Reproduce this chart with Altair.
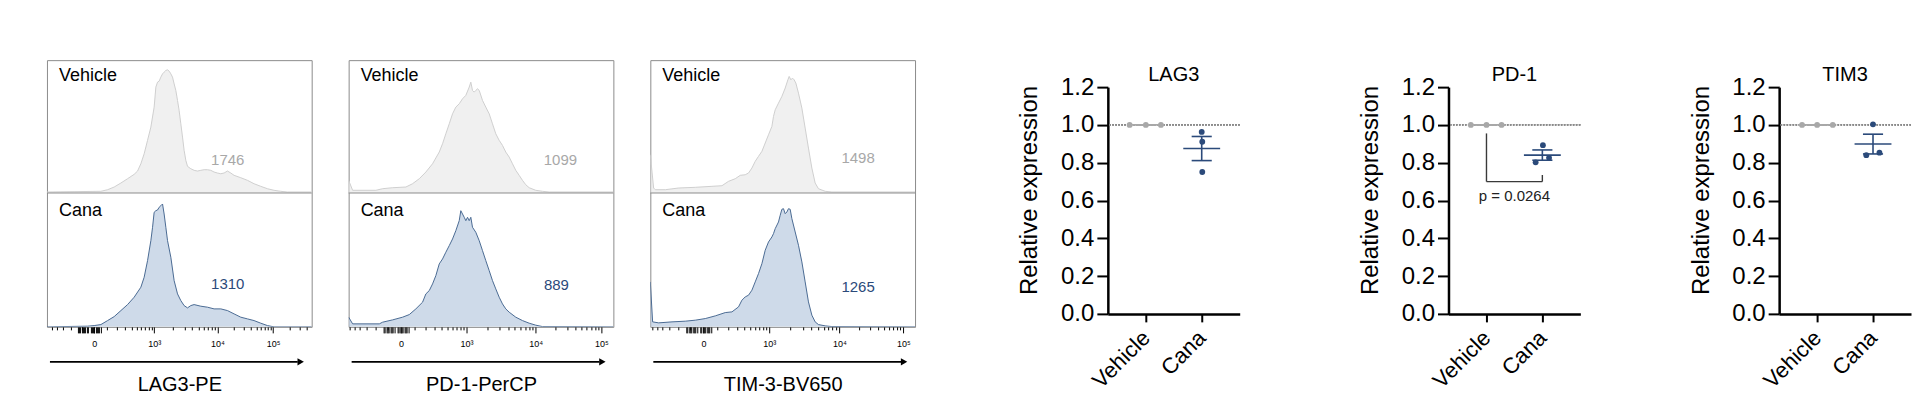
import math
import altair as alt
import pandas as pd

FONT = "Liberation Sans"
GREY_FILL, GREY_LINE, GREY_TXT = "#e9e9e9", "#cfcfcf", "#a8a8a8"
BLUE_FILL, BLUE_LINE, BLUE_TXT = "#b9cadf", "#4a6a93", "#2b4a7a"
DOT_GREY, DOT_BLUE = "#b4b4b4", "#1d4f8d"
BOX = "#8c8c8c"

# ---------------- flow histograms (display channel vs. scaled count) ----------------
lag3_veh_ch = [0, 54, 60.7, 67.3, 74, 80.7, 87.3, 90.7, 94, 97.3,
               100.7, 104, 107.3, 109, 110.7, 112.3, 114, 115.7, 117.3, 119,
               120.7, 122.3, 124, 125.7, 127.3, 129, 130.7, 132.3, 134, 135.7,
               137.3, 139, 140.7, 144, 147.3, 150.7, 154, 157.3, 160.7, 164,
               167.3, 170.7, 174, 177.3, 180.7, 184, 187.3, 194, 200.7, 207.3,
               214, 220.7, 227.3, 234, 240.7, 265]
lag3_veh_ct = [1, 1.7, 3.3, 6, 10, 14.3, 18.7, 22, 29.3, 39.3,
               52.7, 66, 86, 106, 111, 112, 116, 119.3, 121, 122.7,
               123.3, 122, 119.3, 116, 109.3, 102.7, 92.7, 82.7, 69.3, 56,
               42.7, 32.7, 26.7, 24.3, 22.7, 22, 22.7, 23.3, 23.3, 22.7,
               21, 20, 19.3, 20, 22, 20, 17.7, 15.3, 12.7, 9.3,
               6.7, 4.3, 2.7, 1.7, 1, 1]
lag3_cana_ch = [0, 40.7, 47.3, 54, 60.7, 67.3, 74, 80.7, 87.3, 94,
                97.3, 100.7, 104, 105.7, 107.3, 109, 110.7, 112.3, 114, 115.7,
                117.3, 119, 120.7, 124, 127.3, 130.7, 134, 137.3, 140.7, 144,
                147.3, 154, 160.7, 167.3, 174, 180.7, 187.3, 194, 200.7, 207.3,
                214, 220.7, 227.3, 265]
lag3_cana_ct = [0, 0.7, 1.3, 2.3, 6.3, 10.3, 16.3, 22.3, 29.7, 39.7,
                49.7, 66.3, 86.3, 99.7, 114.7, 116.3, 117, 119.7, 121.3, 123,
                113, 99.7, 86.3, 69.7, 46.3, 33, 26.3, 21.3, 19, 21.3,
                22.3, 20.7, 19.7, 18, 18, 16.3, 13, 9.7, 8, 6.3,
                3.7, 1.3, 0, 0]

pd1_veh_ch = [0, 4, 27.3, 34, 44, 57.3, 64, 70.7, 77.3, 84,
              90.7, 94, 97.3, 100.7, 104, 107.3, 110.7, 114, 117.3, 120.7,
              122.3, 124, 125.7, 127.3, 129, 130.7, 134, 137.3, 140.7, 144,
              147.3, 150.7, 154, 157.3, 160.7, 164, 167.3, 170.7, 174, 177.3,
              180.7, 187.3, 194, 200.7, 265]
pd1_veh_ct = [12.7, 2.7, 2.7, 4.3, 5.3, 6, 9.3, 14.3, 21, 29.3,
              41, 49.3, 59.3, 69.3, 79.3, 86, 89.3, 94.3, 97.7, 106,
              111, 102.7, 101, 102.7, 104.3, 102.7, 92.7, 86, 79.3, 69.3,
              59.3, 52.7, 47.7, 41, 36, 29.3, 22.7, 17.7, 12.7, 8.3,
              5.3, 2.7, 1.7, 1, 1]
pd1_cana_ch = [0, 4, 30.7, 34, 44, 54, 60.7, 67.3, 74, 77.3,
               80.7, 84, 87.3, 90.7, 94, 97.3, 100.7, 104, 107.3, 110.7,
               112.3, 114, 115.7, 117.3, 119, 120.7, 122.3, 124, 127.3, 130.7,
               134, 137.3, 140.7, 144, 147.3, 150.7, 154, 157.3, 160.7, 167.3,
               174, 180.7, 187.3, 194, 265]
pd1_cana_ct = [9.7, 3, 3, 4.7, 7, 9.7, 12.3, 18, 24.7, 33,
               36.3, 43, 51.3, 63, 68, 74.7, 81.3, 88, 96.3, 106.3,
               116.3, 113, 109.7, 106.3, 109.7, 106.3, 109.7, 99.7, 94.7, 86.3,
               76.3, 66.3, 56.3, 46.3, 38, 29.7, 23, 18, 14.7, 9.7,
               6.3, 3.7, 1.7, 0.3, 0]

tim3_veh_ch = [0, 3.3, 5, 15, 28.3, 45, 61.7, 71.7, 78.3, 85,
               90, 95, 98.3, 101.7, 105, 108.3, 111.7, 115, 118.3, 121.7,
               123.3, 125, 128.3, 131.7, 135, 137.7, 139, 140.7, 142.3, 144,
               145.7, 148.3, 151.7, 155, 158.3, 161.7, 165, 168.3, 175, 181.7,
               265]
tim3_veh_ct = [38.3, 5, 3.3, 3.3, 5, 5.7, 6.7, 7.3, 11.7, 14.3,
               17.7, 18.3, 20, 25, 31.7, 36.7, 41.7, 50, 58.3, 66.7,
               76.7, 83.3, 90, 96.7, 105, 113.3, 116.7, 113.3, 115, 113.3,
               110, 100, 85, 65, 45, 25, 10, 4.3, 1.7, 1,
               1]
tim3_cana_ch = [0, 2.3, 8.3, 21.7, 35, 45, 55, 65, 75, 81.7,
                88.3, 91.7, 95, 98.3, 101.7, 105, 108.3, 111.7, 115, 118.3,
                121.7, 123.3, 125, 128.3, 130, 131.7, 133.3, 135, 136.7, 138.3,
                140, 141.7, 145, 148.3, 151.7, 155, 158.3, 161.7, 165, 168.3,
                175, 181.7, 265]
tim3_cana_ct = [45, 5, 4, 5, 5.7, 6.7, 8.3, 11, 14.3, 15,
                20, 26.7, 30, 31.7, 36.7, 45, 53.3, 63.3, 76.7, 85,
                90, 93.3, 98.3, 105, 111.7, 117.7, 118.3, 113.3, 115, 118.3,
                117.7, 108.3, 95, 81.7, 65, 45, 25, 11.7, 5, 2.3,
                1, 0.3, 0]

# axis: display channel of 0, 10^3, 10^4, 10^5 in each panel
hist_titles = ["LAG3-PE", "PD-1-PerCP", "TIM-3-BV650"]
hist_major = [[47.3, 107.3, 170.7, 226.3],
              [52.3, 118.0, 187.3, 253.0],
              [53.3, 119.0, 189.3, 253.3]]
major_labels = ["0", "10\u00b3", "10\u2074", "10\u2075"]
veh_mfi = ["1746", "1099", "1498"]
cana_mfi = ["1310", "889", "1265"]
veh_mfi_pos = [(181, 33), (212, 33), (208, 35)]
cana_mfi_pos = [(181, 43), (208, 42), (208, 40)]
name_pos_top = (12, 117)
name_pos_bot = (12, 116)

HW, HT, HB = 265, 133, 134   # width, top half, bottom half (count units)


def logicle_pos(v, m):
    z, t3, t4, t5 = m
    C = 200.0
    if abs(v) <= 1000:
        s = 1 if v >= 0 else -1
        return z + s * (t3 - z) * math.asinh(abs(v) / C) / math.asinh(1000 / C)
    lv = math.log10(v)
    if lv <= 4:
        return t3 + (lv - 3) * (t4 - t3)
    return t4 + (lv - 4) * (t5 - t4)


def axis_ticks(m):
    minor_vals = []
    for k in range(1, 10):
        minor_vals += [k * 10, -k * 10, k * 100, -k * 100]
    for k in range(2, 10):
        minor_vals += [k * 1000, k * 10000, k * 100000]
    big, small = list(m), []
    for v in minor_vals:
        p = logicle_pos(v, m)
        if abs(v) < 100:
            p -= 5          # the dense near-zero tick cluster sits slightly left of "0"
        p = round(p, 2)
        if p < 0.5 or p > HW - 0.5 or p in m:
            continue
        (big if abs(v) < 100 else small).append(p)
    return sorted(set(big + small)), big


def hist_panel(i, veh_ch, veh_ct, cana_ch, cana_ct):
    m = hist_major[i]
    ticks, big = axis_ticks(m)
    expr = "".join(f"datum.value == {v} ? '{lab}' : " for v, lab in zip(m, major_labels)) + "''"
    big_list = ",".join(str(b) for b in big)
    xs = alt.Scale(domain=[0, HW], nice=False, zero=False)
    ys = alt.Scale(domain=[0, HB + HT], nice=False, zero=False)
    xaxis = alt.Axis(values=ticks, labelExpr=expr, domain=False, grid=False,
                     tickColor="black", tickWidth=1,
                     tickSize={"condition": {"test": f"indexof([{big_list}], datum.value) >= 0", "value": 6}, "value": 3},
                     labelFontSize=9, labelFont=FONT, labelColor="black",
                     labelPadding=7, labelOverlap=False, labelFlush=False, labelBound=False,
                     title=hist_titles[i], titleFont=FONT, titleFontSize=20,
                     titleFontWeight="normal", titleColor="black",
                     titleY=64, titleBaseline="alphabetic")
    X = alt.X("channel:Q", scale=xs, axis=xaxis)

    veh = pd.DataFrame({"channel": veh_ch, "count": veh_ct})
    cana = pd.DataFrame({"channel": cana_ch, "count": cana_ct})
    veh_area = alt.Chart(veh).transform_calculate(y=f"datum.count + {HB}").mark_area(
        color=GREY_FILL, line={"color": GREY_LINE, "strokeWidth": 1}, clip=True).encode(
        x=X, y=alt.Y("y:Q", scale=ys, axis=None), y2=alt.datum(HB))
    cana_area = alt.Chart(cana).mark_area(
        color=BLUE_FILL, line={"color": BLUE_LINE, "strokeWidth": 1}, clip=True).encode(
        x=X, y=alt.Y("count:Q", scale=ys, axis=None))
    mid = alt.Chart(alt.Data(values=[{"a": 1}])).mark_rule(color=BOX, strokeWidth=1).encode(
        y=alt.datum(HB, type="quantitative", scale=ys, axis=None))

    names = pd.DataFrame({"channel": [name_pos_top[0], name_pos_bot[0]],
                          "count": [name_pos_top[1] + HB, name_pos_bot[1]],
                          "t": ["Vehicle", "Cana"]})
    ntext = alt.Chart(names).mark_text(align="left", baseline="middle", fontSize=18,
                                       font=FONT, color="black").encode(
        x=X, y=alt.Y("count:Q", scale=ys, axis=None), text="t:N")
    mfis = pd.DataFrame({"channel": [veh_mfi_pos[i][0], cana_mfi_pos[i][0]],
                         "count": [veh_mfi_pos[i][1] + HB, cana_mfi_pos[i][1]],
                         "t": [veh_mfi[i], cana_mfi[i]], "grp": ["Vehicle", "Cana"]})
    mtext = alt.Chart(mfis).mark_text(align="center", baseline="middle", fontSize=15,
                                      font=FONT).encode(
        x=X, y=alt.Y("count:Q", scale=ys, axis=None), text="t:N",
        color=alt.Color("grp:N", scale=alt.Scale(domain=["Vehicle", "Cana"],
                                                 range=[GREY_TXT, BLUE_TXT]), legend=None))
    one = alt.Data(values=[{"a": 1}])
    shaft = alt.Chart(one).mark_rule(color="black", strokeWidth=1.6).encode(
        x=alt.value(3), x2=alt.value(251), y=alt.value(HB + HT + 35))
    head = alt.Chart(one).mark_point(shape="triangle-right", filled=True, size=55,
                                     color="black", opacity=1).encode(
        x=alt.value(254), y=alt.value(HB + HT + 35))
    return alt.layer(veh_area, cana_area, mid, ntext, mtext, shaft, head).properties(
        width=HW, height=HB + HT, view=alt.ViewBackground(stroke=BOX, strokeWidth=1))


# ---------------- relative expression dot plots ----------------
groups = ["Vehicle", "Vehicle", "Vehicle", "Cana", "Cana", "Cana"]
group_pos = {"Vehicle": 1, "Cana": 2}
dot_titles = ["LAG3", "PD-1", "TIM3"]
rel_values = [[1.0, 1.0, 1.0, 0.963, 0.911, 0.751],
              [1.0, 1.0, 1.0, 0.893, 0.802, 0.826],
              [1.0, 1.0, 1.0, 1.003, 0.840, 0.853]]
x_scatter = [[-0.29, 0.0, 0.27, 0.0, 0.01, 0.01],
             [-0.28, 0.0, 0.27, 0.01, -0.12, 0.12],
             [-0.27, 0.0, 0.28, 0.0, -0.12, 0.115]]
bracket_x = [1, 1, 2]
bracket_x2 = [1, 2, 2]
bracket_y = [0.955, 0.70, 0.70]
bracket_y2 = [0.70, 0.70, 0.735]
p_text = "p = 0.0264"
p_pos = (1.5, 0.625)

DW, DH = 132, 227


def dot_panel(j, with_bracket):
    df = pd.DataFrame({"group": groups,
                       "gx": [group_pos[g] for g in groups],
                       "value": rel_values[j]})
    df["x"] = df["gx"] + x_scatter[j]
    xs = alt.Scale(domain=[0.32, 2.68], nice=False, zero=False)
    ys = alt.Scale(domain=[0, 1.2], nice=False, zero=True)
    xaxis = alt.Axis(values=[1, 2], labelExpr="datum.value == 1 ? 'Vehicle' : 'Cana'",
                     grid=False, domainColor="black", domainWidth=2.5, tickColor="black",
                     tickWidth=2, tickSize=8, labelAngle=-45, labelAlign="right",
                     labelBaseline="middle", labelPadding=12, labelFontSize=22, labelFont=FONT,
                     labelColor="black", title=None)
    yaxis = alt.Axis(values=[0, 0.2, 0.4, 0.6, 0.8, 1.0, 1.2], format=".1f", grid=False,
                     domainColor="black", domainWidth=2.5, tickColor="black", tickWidth=2,
                     tickSize=11, labelPadding=3, labelFontSize=24, labelFont=FONT,
                     labelColor="black", title="Relative expression", titleFont=FONT,
                     titleFontSize=24, titleFontWeight="normal", titleColor="black",
                     titleX=-78, titleY=103, titleBaseline="middle", titleAngle=270)

    def X(f):
        return alt.X(f, type="quantitative", scale=xs, axis=xaxis)

    def Y(f):
        return alt.Y(f, type="quantitative", scale=ys, axis=yaxis)

    color = alt.Color("group:N", scale=alt.Scale(domain=["Vehicle", "Cana"],
                                                 range=[DOT_GREY, DOT_BLUE]), legend=None)
    base = alt.Chart(df)
    ref = base.mark_rule(color="#8a8a8a", strokeDash=[1.5, 1.5], strokeWidth=1).encode(
        y=alt.datum(1.0, type="quantitative", scale=ys, axis=yaxis))
    stats = base.transform_aggregate(
        mean="mean(value)", sd="stdev(value)", n="count()", groupby=["group", "gx"]
    ).transform_calculate(
        sem="datum.sd / sqrt(datum.n)",
        lo="datum.mean - datum.sem", hi="datum.mean + datum.sem",
        ml="datum.gx - 0.33", mr="datum.gx + 0.33",
        cl="datum.gx - 0.18", cr="datum.gx + 0.18")
    mean_line = stats.mark_rule(strokeWidth=1.6).encode(x=X("ml"), x2="mr:Q", y=Y("mean"), color=color)
    err = stats.mark_rule(strokeWidth=1.6).encode(x=X("gx"), y=Y("lo"), y2="hi:Q", color=color)
    cap_hi = stats.mark_rule(strokeWidth=1.6).encode(x=X("cl"), x2="cr:Q", y=Y("hi"), color=color)
    cap_lo = stats.mark_rule(strokeWidth=1.6).encode(x=X("cl"), x2="cr:Q", y=Y("lo"), color=color)
    pts = base.mark_circle(size=34, opacity=1).encode(x=X("x"), y=Y("value"), color=color)
    layers = [ref, mean_line, err, cap_hi, cap_lo, pts]
    if with_bracket:
        bdf = pd.DataFrame({"x": bracket_x, "x2": bracket_x2, "y": bracket_y, "y2": bracket_y2})
        br = alt.Chart(bdf).mark_rule(color="#3a3a3a", strokeWidth=1.4).encode(
            x=X("x"), x2="x2:Q", y=Y("y"), y2="y2:Q")
        pdf = pd.DataFrame({"x": [p_pos[0]], "y": [p_pos[1]], "t": [p_text]})
        pt = alt.Chart(pdf).mark_text(fontSize=15, font=FONT, color="#222222",
                                      baseline="middle").encode(x=X("x"), y=Y("y"), text="t:N")
        layers += [br, pt]
    return alt.layer(*layers).properties(
        width=DW, height=DH,
        title=alt.TitleParams(dot_titles[j], fontSize=20, font=FONT, fontWeight="normal",
                              color="black", offset=-10))


h1 = hist_panel(0, lag3_veh_ch, lag3_veh_ct, lag3_cana_ch, lag3_cana_ct)
h2 = hist_panel(1, pd1_veh_ch, pd1_veh_ct, pd1_cana_ch, pd1_cana_ct)
h3 = hist_panel(2, tim3_veh_ch, tim3_veh_ct, tim3_cana_ch, tim3_cana_ct)
hist_block = alt.hconcat(h1, h2, h3, spacing=35)

d1 = dot_panel(0, False)
d2 = dot_panel(1, True)
d3 = dot_panel(2, False)
spacer = alt.Chart(alt.Data(values=[{"a": 1}])).mark_point(opacity=0).encode(
    x=alt.value(0), y=alt.value(0)).properties(width=DW, height=2)
dot_row = alt.hconcat(d1, alt.hconcat(d2, d3, spacing=107), spacing=117)
dot_block = alt.vconcat(spacer, dot_row, spacing=0)

chart = alt.hconcat(hist_block, dot_block, spacing=101).properties(
    padding={"left": 38, "top": 48, "right": 0, "bottom": 0}
).configure(font=FONT, background="white").configure_view(stroke="transparent")

chart.save("out.html", embed_options={"renderer": "svg", "actions": False})
